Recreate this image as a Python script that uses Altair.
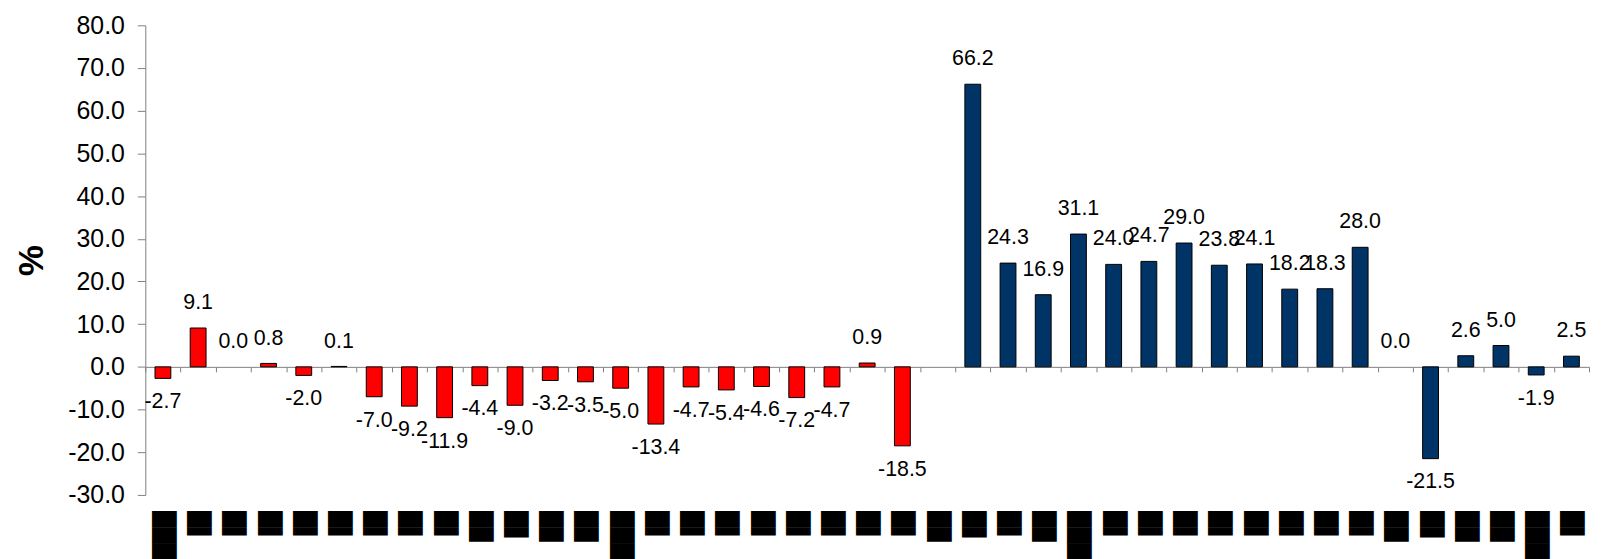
import altair as alt
import pandas as pd

# ---- data ----
red_values = [-2.7, 9.1, 0.0, 0.8, -2.0, 0.1, -7.0, -9.2, -11.9, -4.4, -9.0,
              -3.2, -3.5, -5.0, -13.4, -4.7, -5.4, -4.6, -7.2, -4.7, 0.9, -18.5]
gap_values = [None]
navy_values = [66.2, 24.3, 16.9, 31.1, 24.0, 24.7, 29.0, 23.8, 24.1, 18.2,
               18.3, 28.0, 0.0, -21.5, 2.6, 5.0, -1.9, 2.5]

# category labels are unreadable in the reference (rendered as solid blocks)
S, M, N, T = "\u2588\u258c", "\u2588\u2589", "\u2588\u258b", "\u2588\u2588\u2588"
category_labels = [T, S, S, S, S, S, S, S, S, M, N, M, M,
                   T, S, S, S, S, S, S, S, S, M, N, S, M,
                   T, S, S, S, S, S, S, S, S, M, N, M, M,
                   T, S]

series_names = ["A", "B"]
series_colors = ["#FF0000", "#003366"]

values = red_values + gap_values + navy_values
series = ["A"] * len(red_values) + [None] + ["B"] * len(navy_values)
idx = list(range(len(values)))

df = pd.DataFrame({
    "idx": idx,
    "value": values,
    "series": series,
    "label": [None if v is None else f"{v:.1f}" for v in values],
})

W, H = 1451, 472
ymin, ymax = -30, 80
zero_offset = -H * (0 - ymin) / (ymax - ymin)

xscale = alt.Scale(domain=idx, paddingInner=0, paddingOuter=0)
yscale = alt.Scale(domain=[ymin, ymax], nice=False, zero=False)

label_expr = "[" + ",".join("'" + s + "'" for s in category_labels) + "][datum.value]"

label_axis = alt.Axis(orient="bottom", domain=False, ticks=False, tickSize=0,
                      labelPadding=16, labelAngle=90, labelFont="DejaVu Sans",
                      labelFontSize=21, labelColor="black", labelExpr=label_expr,
                      labelOverlap=False, labelFlush=False, labelBound=False,
                      title=None, grid=False)

zero_axis = alt.Axis(orient="bottom", offset=zero_offset, labels=False,
                     domain=True, domainColor="#808080", domainWidth=1,
                     ticks=True, tickSize=5, tickColor="#808080", tickBand="extent",
                     title=None, grid=False)

y_axis = alt.Axis(values=list(range(ymin, ymax + 1, 10)),
                  labelExpr="replace(format(datum.value, '.1f'), '\u2212', '-')",
                  labelFont="Liberation Sans", labelFontSize=25, labelColor="black",
                  labelPadding=13, tickSize=8, tickColor="#808080",
                  domainColor="#808080", grid=False,
                  title="%", titleFont="Liberation Sans", titleFontSize=35,
                  titleFontWeight="bold", titleColor="black", titlePadding=18)

base = alt.Chart(df)

bars = base.transform_filter("datum.value != null && datum.value != 0").mark_bar(
    stroke="black", strokeWidth=1, width=alt.RelativeBandSize(0.45)).encode(
    x=alt.X("idx:O", scale=xscale, axis=label_axis),
    y=alt.Y("value:Q", scale=yscale, axis=y_axis),
    color=alt.Color("series:N", scale=alt.Scale(domain=series_names, range=series_colors), legend=None),
)

zero_layer = base.mark_point(opacity=0).encode(
    x=alt.X("idx:O", scale=xscale, axis=zero_axis),
    y=alt.Y("value:Q", scale=yscale, axis=y_axis),
)

text_style = dict(font="Liberation Sans", fontSize=21.5, color="black", align="center",
                  baseline="alphabetic")

pos_text = base.transform_filter("datum.value != null && datum.value >= 0").mark_text(
    dy=-19, **text_style).encode(
    x=alt.X("idx:O", scale=xscale, axis=None),
    y=alt.Y("value:Q", scale=yscale, axis=y_axis),
    text="label:N",
)

neg_text = base.transform_filter("datum.value != null && datum.value < 0").mark_text(
    dy=30, **text_style).encode(
    x=alt.X("idx:O", scale=xscale, axis=None),
    y=alt.Y("value:Q", scale=yscale, axis=y_axis),
    text="label:N",
)

chart = alt.layer(bars, zero_layer, pos_text, neg_text).resolve_axis(
    x="independent"
).properties(
    width=W, height=H,
    autosize=alt.AutoSizeParams(type="none"),
    padding={"left": 138, "top": 16, "right": 5, "bottom": 63},
).configure_view(stroke=None)

chart.save("out.html", embed_options={"renderer": "svg", "actions": False})
